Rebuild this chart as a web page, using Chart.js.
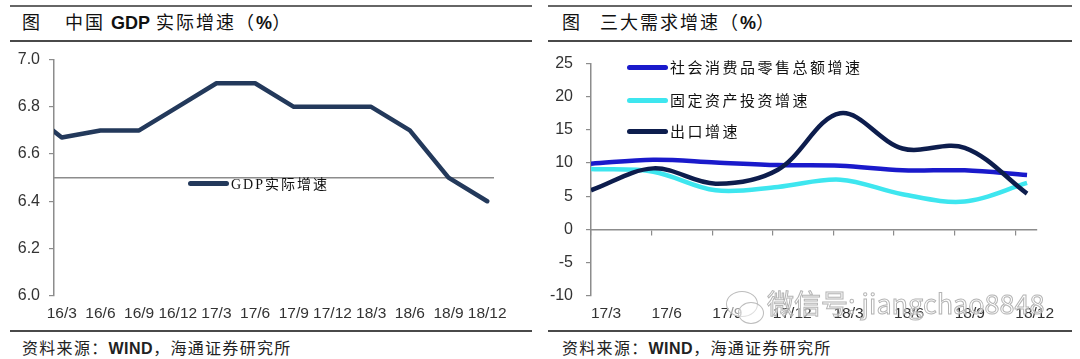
<!DOCTYPE html>
<html><head><meta charset="utf-8">
<script src="https://cdn.jsdelivr.net/npm/chart.js@4"></script>
<style>
html,body{margin:0;padding:0;background:#fff;}
#wrap{position:relative;width:1080px;height:359px;overflow:hidden;font-family:"Noto Sans CJK SC",sans-serif;}
.rule{position:absolute;height:2px;background:#4a4a4a;}
.t{position:absolute;top:9px;font-size:18px;line-height:24px;color:#111;white-space:nowrap;letter-spacing:2px;}
.t b{font-family:"Liberation Sans",Arial,sans-serif;font-weight:bold;letter-spacing:0;}
.src{position:absolute;top:336px;font-size:16px;line-height:22px;color:#222;white-space:nowrap;letter-spacing:1.3px;}
.src b{font-family:"Liberation Sans",Arial,sans-serif;font-weight:bold;letter-spacing:0.5px;}
canvas{position:absolute;}
.leg{position:absolute;line-height:20px;color:#111;white-space:nowrap;}
.sw{position:absolute;height:5px;border-radius:3px;width:41px;}
.wm{position:absolute;left:767px;top:286px;font-size:27px;line-height:34px;white-space:nowrap;color:rgba(255,255,255,0.55);-webkit-text-stroke:1px #b4b4b4;font-family:"Noto Sans CJK SC",sans-serif;}
.ico{position:absolute;border:1.2px solid #bdbdbd;border-radius:50%;background:rgba(255,255,255,0.5);}
</style></head>
<body>
<div id="wrap">
  <div class="rule" style="left:10px;top:5px;width:522px;height:1.5px;background:#666"></div>
  <div class="rule" style="left:10px;top:40px;width:522px;"></div>
  <div class="rule" style="left:10px;top:330px;width:522px;"></div>
  <div class="rule" style="left:548px;top:5px;width:524px;height:1.5px;background:#666"></div>
  <div class="rule" style="left:548px;top:40px;width:524px;"></div>
  <div class="rule" style="left:548px;top:330px;width:524px;"></div>

  <div class="t" style="left:22px">图</div>
  <div class="t" style="left:65px">中国 <b>GDP</b> 实际增速（<b>%</b>）</div>
  <div class="t" style="left:562px">图</div>
  <div class="t" style="left:600px">三大需求增速（<b>%</b>）</div>

  <canvas id="c1" width="540" height="289" style="left:0;top:41px"></canvas>
  <canvas id="c2" width="540" height="289" style="left:540px;top:41px"></canvas>

  <div class="sw" style="left:188px;top:180.5px;background:#23395b"></div>
  <div class="leg" style="left:231px;top:173px;font-size:14px;letter-spacing:2px"><span style="font-family:'Liberation Serif',serif">GDP</span>实际增速</div>

  <div class="sw" style="left:627px;top:64.5px;background:#1a1acb"></div>
  <div class="leg" style="left:670px;top:57px;font-size:15px;letter-spacing:2.5px">社会消费品零售总额增速</div>
  <div class="sw" style="left:627px;top:97.5px;background:#3ee6ef"></div>
  <div class="leg" style="left:670px;top:90px;font-size:15px;letter-spacing:2.5px">固定资产投资增速</div>
  <div class="sw" style="left:627px;top:128.5px;background:#0d1d4d"></div>
  <div class="leg" style="left:670px;top:121px;font-size:15px;letter-spacing:2.5px">出口增速</div>

  <div class="src" style="left:22px">资料来源：<b>WIND</b>，海通证券研究所</div>
  <div class="src" style="left:562px">资料来源：<b>WIND</b>，海通证券研究所</div>

  <div class="ico" style="left:726px;top:291px;width:30px;height:24px"></div>
  <div class="ico" style="left:738px;top:302px;width:24px;height:20px"></div>
  <div class="wm">微信号: jiangchao8848</div>
</div>
<script>
// ---- Left chart data: 中国GDP实际增速 (%) ----
const gdpQuarters = ['15/12','16/3','16/6','16/9','16/12','17/3','17/6','17/9','17/12','18/3','18/6','18/9','18/12'];
const gdpGrowth   = [6.8, 6.67, 6.7, 6.7, 6.8, 6.9, 6.9, 6.8, 6.8, 6.8, 6.7, 6.5, 6.4];
const gdpAxisCross = 6.5;

// ---- Right chart data: 三大需求增速 (%) ----
const demandQuarters = ['17/3','17/6','17/9','17/12','18/3','18/6','18/9','18/12'];
const retailGrowth = [9.9, 10.5, 10.1, 9.7, 9.6, 8.9, 8.9, 8.2];
const faiGrowth    = [9.1, 8.7, 5.9, 6.4, 7.5, 5.3, 4.2, 7.0];
const exportGrowth = [5.9, 9.2, 6.9, 9.0, 17.5, 12.2, 12.3, 5.4];
const demandTickLabels = ['17/3','17/6','17/9','17/12','18/3','18/6','18/9','18/12'];
const monthsPerTick = 3;

Chart.defaults.font.family = '"Liberation Sans", Arial, sans-serif';
Chart.defaults.font.size = 15;
Chart.defaults.color = '#333';
Chart.defaults.animation = false;

const axisGray = '#8c8c8c';

new Chart(document.getElementById('c1'), {
  type: 'line',
  data: {
    datasets: [{
      label: 'GDP实际增速',
      data: gdpQuarters.map((q, i) => ({x: i, y: gdpGrowth[i]})),
      borderColor: '#23395b',
      borderWidth: 4.5,
      pointRadius: 0,
      tension: 0,
      clip: 0,
      borderJoinStyle: 'round',
      borderCapStyle: 'round'
    }]
  },
  options: {
    responsive: false,
    devicePixelRatio: 1,
    layout: {padding: {left: 0, right: 47, top: 14.7, bottom: 0}},
    plugins: {legend: {display: false}, tooltip: {enabled: false}},
    scales: {
      x: {
        type: 'linear', position: 'bottom', min: 0.8, max: 12.15,
        afterBuildTicks: s => { s.ticks = gdpQuarters.map((q, i) => ({value: i})).filter(t => t.value >= 1); },
        afterFit: s => { s.height = 34.3; },
        ticks: {callback: v => gdpQuarters[v], padding: 9, autoSkip: false, maxRotation: 0, font: {size: 15.5}},
        grid: {display: false, drawTicks: false},
        border: {display: false}
      },
      xb: {
        type: 'linear', position: {y: gdpAxisCross}, min: 0.8, max: 12.15,
        ticks: {display: false},
        grid: {display: false, drawTicks: false},
        border: {display: true, color: axisGray, width: 1.5}
      },
      y: {
        min: 6.0, max: 7.0,
        afterFit: s => { s.width = 54; },
        ticks: {stepSize: 0.2, padding: 9, callback: v => Number(v).toFixed(1), font: {size: 16}},
        grid: {drawOnChartArea: false, drawTicks: true, tickLength: 5, color: axisGray, lineWidth: 1.2},
        border: {display: true, color: axisGray, width: 1.5}
      }
    }
  }
});

new Chart(document.getElementById('c2'), {
  type: 'line',
  data: {
    datasets: [
      {label: '出口增速', data: demandQuarters.map((q, i) => ({x: i, y: exportGrowth[i]})), borderColor: '#0d1d4d'},
      {label: '社会消费品零售总额增速', data: demandQuarters.map((q, i) => ({x: i, y: retailGrowth[i]})), borderColor: '#1a1acb'},
      {label: '固定资产投资增速', data: demandQuarters.map((q, i) => ({x: i, y: faiGrowth[i]})), borderColor: '#3ee6ef'}
    ].map(d => Object.assign(d, {xAxisID: 'xq', yAxisID: 'y', borderWidth: 4.5, pointRadius: 0, tension: 0.35, borderCapStyle: 'butt'}))
  },
  options: {
    responsive: false,
    devicePixelRatio: 1,
    layout: {padding: {left: 0, right: 43.3, top: 14.7, bottom: 0}},
    plugins: {legend: {display: false}, tooltip: {enabled: false}},
    scales: {
      xq: {type: 'linear', display: false, min: 0, max: 7.155},
      xt: {
        type: 'linear', position: {y: 0}, min: 0, max: 22.06,
        afterBuildTicks: s => { s.ticks = demandTickLabels.map((l, i) => ({value: i * monthsPerTick})); },
        ticks: {display: false},
        grid: {drawOnChartArea: false, drawTicks: true, tickLength: 5, color: axisGray, lineWidth: 1.2},
        border: {display: true, color: axisGray, width: 1.5}
      },
      xl: {
        type: 'linear', position: 'bottom', min: 0, max: 22.06,
        afterBuildTicks: s => { s.ticks = demandTickLabels.map((l, i) => ({value: i * monthsPerTick})); },
        afterFit: s => { s.height = 34.3; },
        ticks: {callback: v => demandTickLabels[Math.round(v / monthsPerTick)], align: 'start', padding: 9, autoSkip: false, maxRotation: 0, font: {size: 15.5}},
        grid: {display: false, drawTicks: false},
        border: {display: false}
      },
      y: {
        min: -10, max: 25,
        afterFit: s => { s.width = 51; },
        ticks: {stepSize: 5, padding: 13, font: {size: 16}},
        grid: {drawOnChartArea: false, drawTicks: true, tickLength: 5, color: axisGray, lineWidth: 1.2},
        border: {display: true, color: axisGray, width: 1.5}
      }
    }
  }
});
</script>
</body></html>
